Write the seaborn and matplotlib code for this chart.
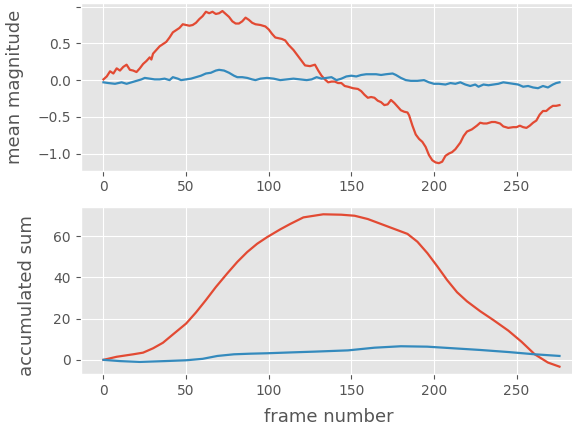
import matplotlib
matplotlib.use("Agg")
import matplotlib.pyplot as plt
import seaborn as sns

# top panel: mean magnitude per frame
red_frames = [0, 2, 4, 6, 8, 10, 12, 14, 16, 18, 20, 22, 24, 26, 28, 29, 30, 32, 34, 36,
              38, 40, 42, 44, 46, 48, 50, 52, 54, 56, 58, 60, 62, 64, 66, 68, 70, 72, 74, 76,
              78, 80, 82, 84, 86, 88, 90, 92, 95, 98, 100, 102, 104, 106, 108, 110, 112, 115,
              118, 120, 122, 125, 128, 130, 132, 134, 136, 138, 140, 142, 144, 146, 148, 151,
              154, 156, 158, 160, 162, 164, 166, 168, 170, 172, 174, 176, 178, 180, 182, 184,
              185, 187, 189, 191, 193, 195, 197, 199, 201, 203, 205, 207, 209, 211, 213, 216,
              218, 220, 223, 226, 228, 230, 232, 235, 237, 240, 242, 245, 248, 250, 252, 254,
              256, 258, 260, 262, 264, 266, 268, 270, 272, 274, 276]
red_mean = [0.01, 0.05, 0.12, 0.09, 0.16, 0.13, 0.18, 0.21, 0.14, 0.13, 0.11, 0.16, 0.22,
            0.26, 0.31, 0.28, 0.36, 0.41, 0.46, 0.49, 0.52, 0.58, 0.65, 0.68, 0.71, 0.76,
            0.75, 0.74, 0.75, 0.78, 0.83, 0.87, 0.93, 0.91, 0.93, 0.90, 0.91, 0.94, 0.90,
            0.86, 0.80, 0.77, 0.77, 0.80, 0.85, 0.82, 0.78, 0.76, 0.75, 0.73, 0.69, 0.63,
            0.58, 0.57, 0.56, 0.54, 0.48, 0.41, 0.32, 0.26, 0.20, 0.19, 0.21, 0.13, 0.06,
            0.01, -0.03, -0.02, -0.02, -0.04, -0.04, -0.08, -0.09, -0.11, -0.12, -0.15,
            -0.20, -0.24, -0.23, -0.24, -0.28, -0.30, -0.34, -0.33, -0.27, -0.31, -0.36,
            -0.41, -0.43, -0.44, -0.48, -0.62, -0.74, -0.80, -0.84, -0.91, -1.02, -1.09,
            -1.12, -1.13, -1.11, -1.03, -1.00, -0.98, -0.94, -0.85, -0.76, -0.70, -0.67,
            -0.62, -0.58, -0.59, -0.59, -0.57, -0.57, -0.59, -0.63, -0.65, -0.64, -0.64,
            -0.62, -0.64, -0.65, -0.62, -0.58, -0.55, -0.47, -0.42, -0.42, -0.38, -0.35,
            -0.35, -0.34]

blue_frames = [0, 3, 7, 11, 14, 17, 20, 23, 25, 28, 31, 34, 37, 40, 42, 45, 47, 50, 53, 56,
               59, 62, 65, 68, 70, 73, 76, 79, 81, 84, 87, 90, 92, 95, 99, 103, 107, 111, 115,
               119, 123, 126, 129, 132, 135, 138, 141, 144, 147, 150, 153, 156, 159, 162, 165,
               168, 171, 175, 177, 180, 183, 186, 190, 194, 197, 200, 203, 207, 210, 213, 216,
               219, 222, 225, 227, 230, 233, 236, 239, 242, 245, 248, 251, 254, 257, 260, 263,
               266, 269, 272, 274, 276]
blue_mean = [-0.03, -0.04, -0.05, -0.03, -0.05, -0.03, -0.01, 0.01, 0.03, 0.02, 0.01, 0.01,
             0.02, 0.00, 0.04, 0.02, 0.00, 0.01, 0.02, 0.04, 0.06, 0.09, 0.10, 0.13, 0.14,
             0.13, 0.10, 0.06, 0.04, 0.04, 0.03, 0.01, 0.00, 0.02, 0.03, 0.02, 0.00, 0.01,
             0.02, 0.01, 0.00, 0.01, 0.04, 0.02, 0.03, 0.04, 0.00, 0.02, 0.05, 0.06, 0.05,
             0.07, 0.08, 0.08, 0.08, 0.07, 0.08, 0.09, 0.07, 0.03, 0.00, -0.01, -0.01, 0.00,
             -0.03, -0.05, -0.05, -0.06, -0.04, -0.05, -0.03, -0.06, -0.08, -0.06, -0.09,
             -0.06, -0.07, -0.06, -0.05, -0.03, -0.04, -0.05, -0.06, -0.09, -0.08, -0.10,
             -0.11, -0.08, -0.10, -0.06, -0.04, -0.03]

# bottom panel: accumulated sum
red_sum_frames = [0, 8, 18, 24, 30, 36, 42, 50, 56, 62, 68, 75, 81, 87, 93, 99, 107, 113,
                  121, 133, 144, 152, 160, 168, 176, 184, 190, 196, 202, 208, 214, 220, 228,
                  236, 245, 253, 261, 269, 276]
red_sum = [0.0, 1.5, 2.7, 3.5, 5.6, 8.3, 12.3, 17.6, 23.0, 29.0, 35.3, 42.0, 47.5, 52.3,
           56.3, 59.5, 63.3, 65.9, 69.1, 70.6, 70.4, 69.9, 68.3, 65.9, 63.5, 61.1, 57.3,
           51.8, 45.4, 38.7, 32.8, 28.4, 23.6, 19.3, 14.2, 8.8, 2.7, -1.3, -3.3]

blue_sum_frames = [0, 10, 22, 37, 50, 60, 69, 79, 89, 99, 113, 128, 148, 164, 180, 196,
                   212, 228, 245, 261, 276]
blue_sum = [0.0, -0.6, -1.0, -0.6, -0.2, 0.5, 1.9, 2.7, 3.0, 3.2, 3.6, 4.0, 4.6, 5.9, 6.6,
            6.4, 5.6, 4.8, 3.8, 2.7, 1.9]

RED = "#E24A33"
BLUE = "#348ABD"


def draw_top(ax):
    sns.lineplot(x=red_frames, y=red_mean, ax=ax, color=RED, linewidth=1.6)
    sns.lineplot(x=blue_frames, y=blue_mean, ax=ax, color=BLUE, linewidth=1.6)
    ax.set_yticks([-1.0, -0.5, 0.0, 0.5, 1.0])
    ax.set_yticklabels(["\u22121.0", "\u22120.5", "0.0", "0.5", ""])
    ax.set_xticks([0, 50, 100, 150, 200, 250])
    ax.set_ylabel("mean magnitude", fontsize=13)
    ax.yaxis.set_label_coords(-0.113, 0.5)


def draw_bottom(ax):
    sns.lineplot(x=red_sum_frames, y=red_sum, ax=ax, color=RED, linewidth=1.6)
    sns.lineplot(x=blue_sum_frames, y=blue_sum, ax=ax, color=BLUE, linewidth=1.6)
    ax.set_yticks([0, 20, 40, 60])
    ax.set_xticks([0, 50, 100, 150, 200, 250])
    ax.set_ylabel("accumulated sum", fontsize=13)
    ax.yaxis.set_label_coords(-0.089, 0.47)
    ax.set_xlabel("frame number", fontsize=13)
    ax.xaxis.set_label_coords(0.495, -0.20)


def main():
    plt.style.use("ggplot")
    fig = plt.figure(figsize=(5.72, 4.28), dpi=100)
    ax_top = fig.add_axes([0.141, 0.601, 0.877, 0.391])
    ax_bot = fig.add_axes([0.141, 0.1255, 0.877, 0.3916])

    draw_top(ax_top)
    draw_bottom(ax_bot)

    for ax in (ax_top, ax_bot):
        ax.tick_params(labelsize=10, colors="#555555")

    fig.savefig("out.png", dpi=100)


if __name__ == "__main__":
    main()
